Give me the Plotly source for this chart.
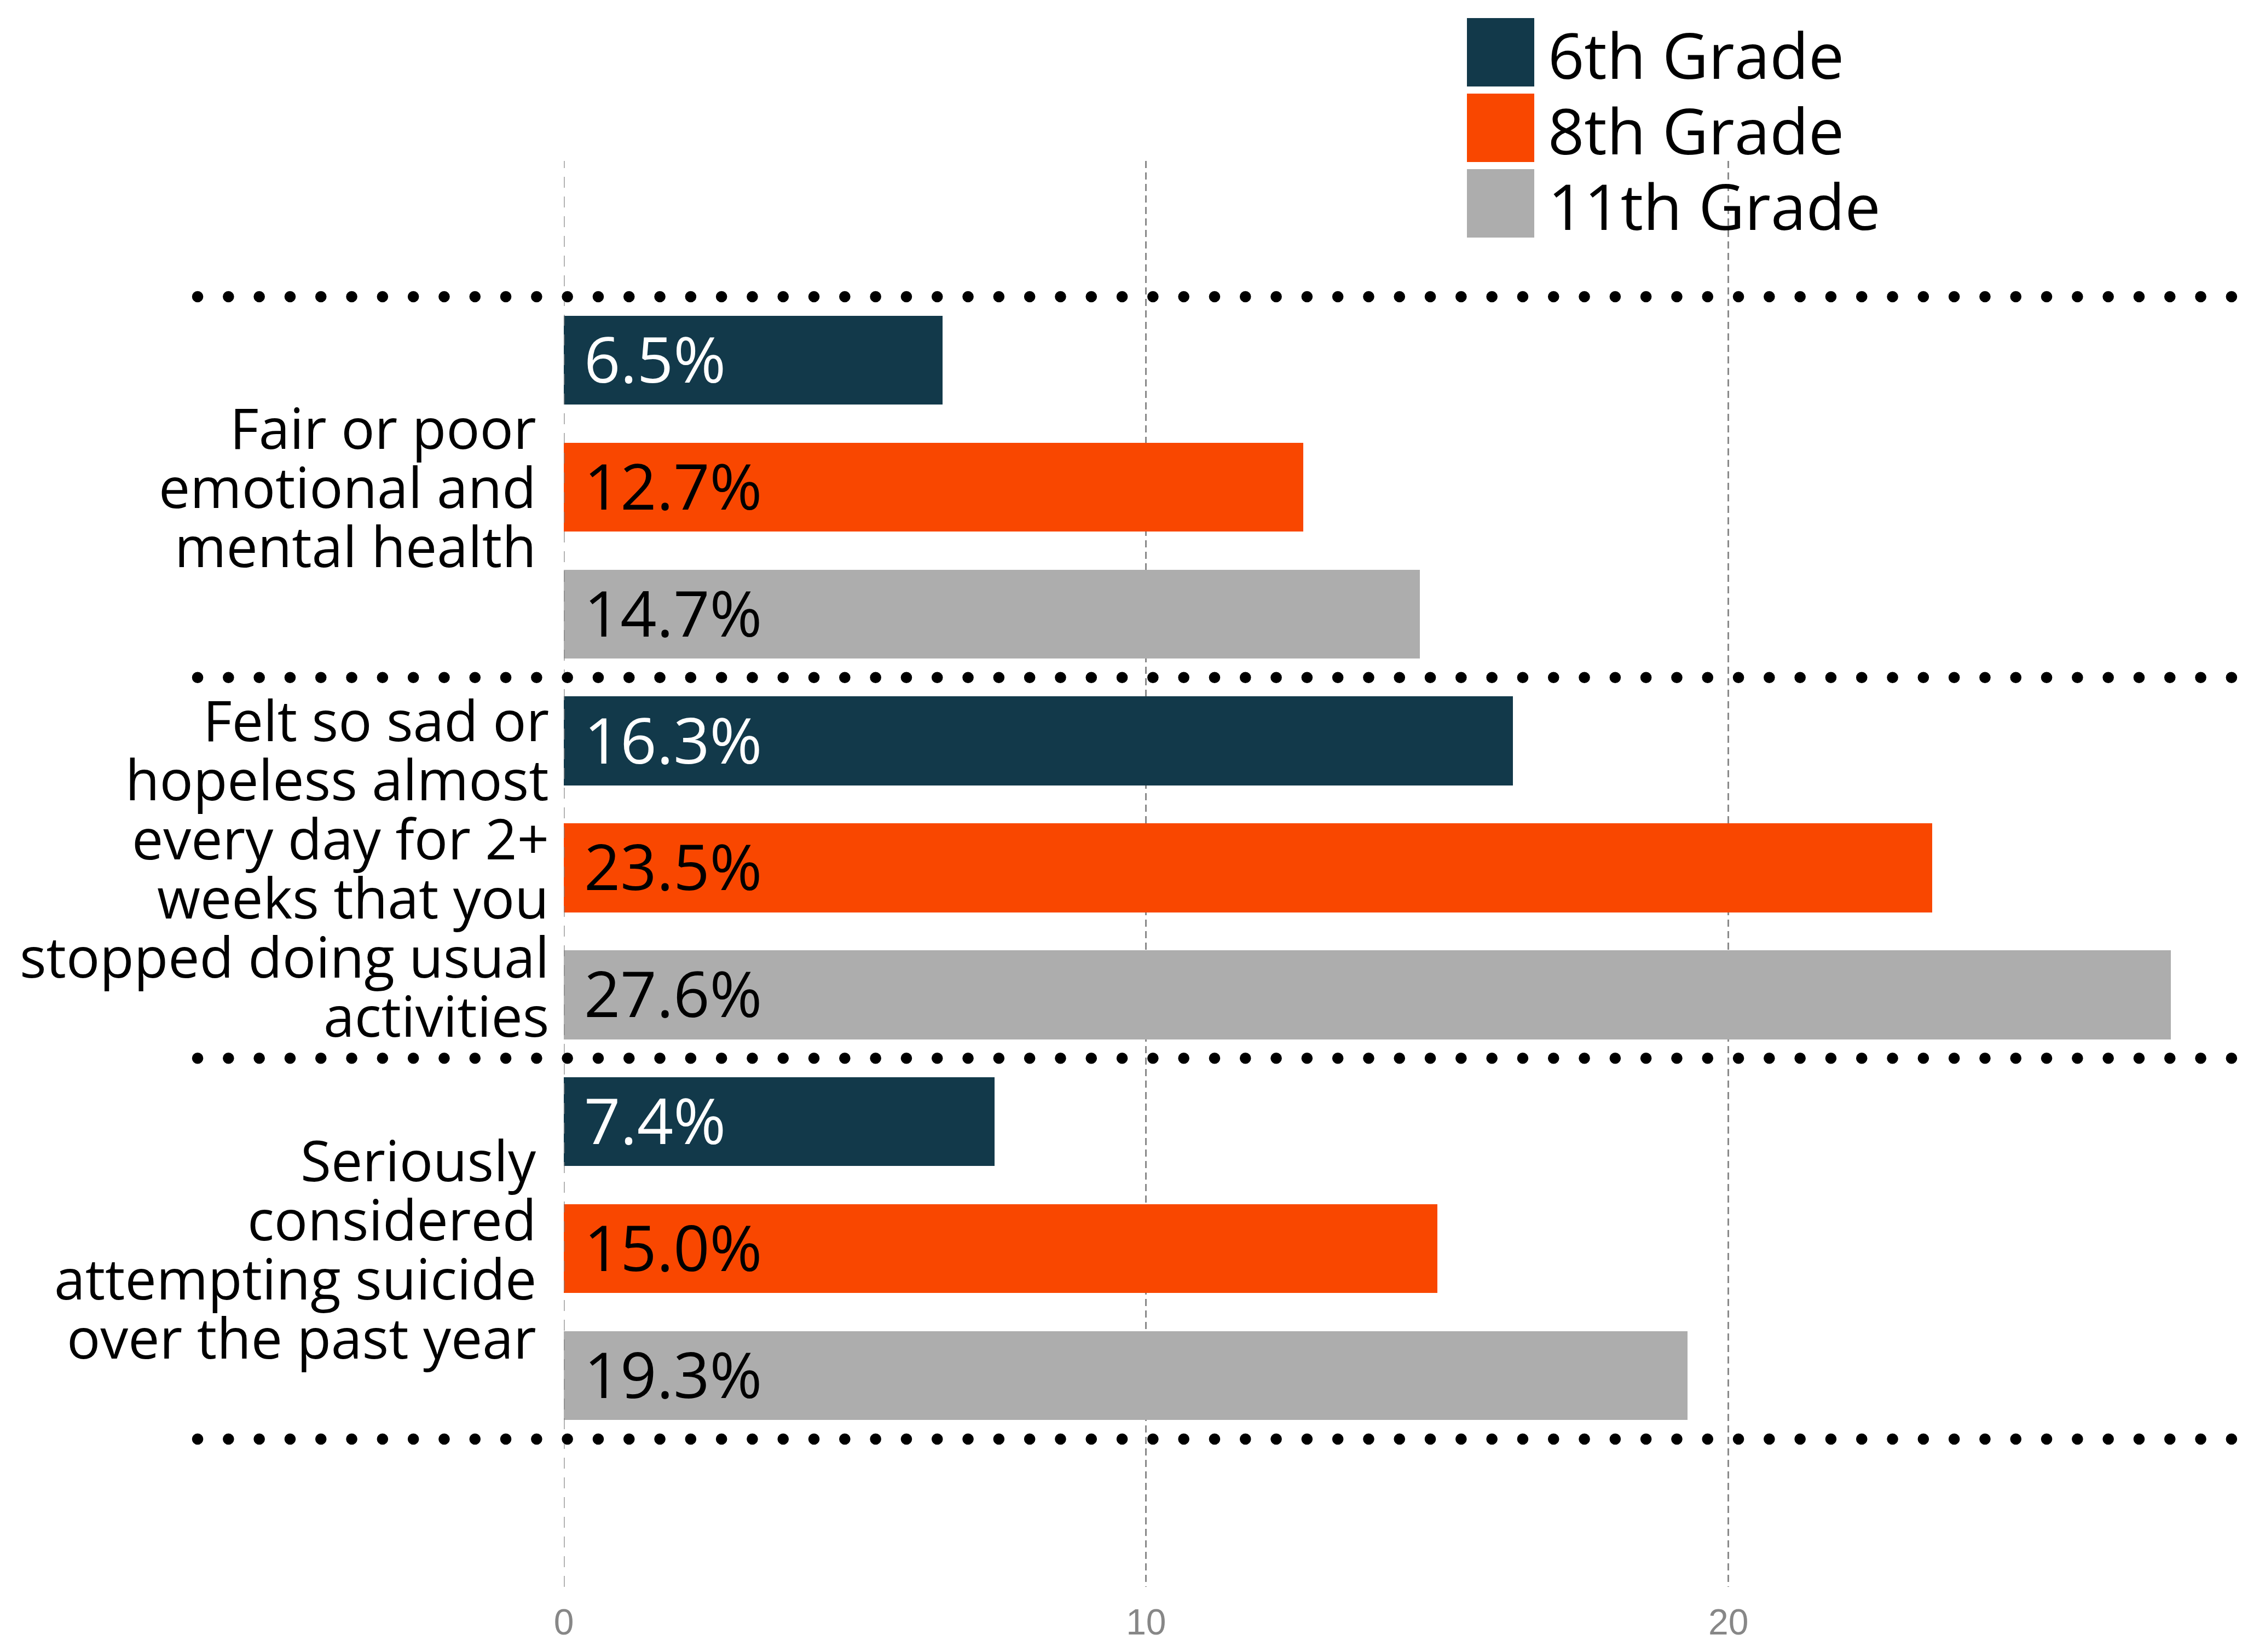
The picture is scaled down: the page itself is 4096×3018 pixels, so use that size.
import plotly.graph_objects as go

# ---------------- data ----------------
categories = [
    "Fair or poor<br>emotional and<br>mental health",
    "Felt so sad or<br>hopeless almost<br>every day for 2+<br>weeks that you<br>stopped doing usual<br>activities",
    "Seriously<br>considered<br>attempting suicide<br>over the past year",
]
grades = ["6th Grade", "8th Grade", "11th Grade"]
values_6th = [6.5, 16.3, 7.4]
values_8th = [12.7, 23.5, 15.0]
values_11th = [14.7, 27.6, 19.3]
tick_values = [0, 10, 20]

series = [values_6th, values_8th, values_11th]
colors = ["#12394A", "#F94700", "#ADADAD"]
text_colors = ["white", "black", "black"]

# ---------------- layout constants (output pixels) ----------------
W, H = 4096, 3018
PL, PR, PT, PB = 1030, 4096, 294, 2899  # plot area edges
X_MAX = 28.82
Y_RANGE = [9.665, -1.570]  # reversed: position 0 at top
BAR_UNIT = (PB - PT) / (Y_RANGE[0] - Y_RANGE[1])

def px_x(px):
    return (px - PL) / (PR - PL)

def px_y(py):
    return (PB - py) / (PB - PT)

def data_y_to_paper(v):
    return (Y_RANGE[0] - v) / (Y_RANGE[0] - Y_RANGE[1])

FONT = "Open Sans"

fig = go.Figure()

n_groups = len(categories)
n_series = len(series)
for k, (vals, col, name) in enumerate(zip(series, colors, grades)):
    ypos = [n_series * g + k for g in range(n_groups)]
    fig.add_trace(go.Bar(
        x=vals, y=ypos, orientation="h", width=0.7,
        marker=dict(color=col, line=dict(width=0)),
        name=name, showlegend=False, hoverinfo="skip",
    ))

annotations = []
shapes = []

# value labels inside bars
for k, vals in enumerate(series):
    for g, v in enumerate(vals):
        annotations.append(dict(
            x=0, y=n_series * g + k, xref="x", yref="y",
            text=f"{v:.1f}%", showarrow=False, xanchor="left", yanchor="middle",
            xshift=35, yshift=4,
            font=dict(family=FONT, size=116, color=text_colors[k]),
        ))

# category labels (one annotation per line for tight line spacing)
LINE_SP = 108 / BAR_UNIT
label_right = [982, 1005, 982]
for g, cat in enumerate(categories):
    lines = cat.split("<br>")
    n = len(lines)
    center = n_series * g + (n_series - 1) / 2
    for i, line in enumerate(lines):
        annotations.append(dict(
            x=px_x(label_right[g]), y=center + (i - (n - 1) / 2) * LINE_SP,
            xref="paper", yref="y", text=line, showarrow=False,
            xanchor="right", yanchor="middle", yshift=1,
            font=dict(family=FONT, size=102, color="black"),
        ))

# zero line (light dashed, above bars)
shapes.append(dict(
    type="line", xref="x", yref="paper", x0=0, x1=0, y0=0, y1=1,
    line=dict(color="rgba(128,128,128,0.6)", width=4, dash="20px,16px"),
    layer="above",
))

# dotted separators between groups
for b in range(n_groups + 1):
    yv = n_series * b - 0.5
    shapes.append(dict(
        type="line", xref="paper", yref="paper",
        x0=px_x(361), x1=px_x(4140), y0=data_y_to_paper(yv), y1=data_y_to_paper(yv),
        line=dict(color="black", width=20.5, dash="0.1px,56.2px"),
        layer="above",
    ))

# custom legend
for i, (name, col) in enumerate(zip(grades, colors)):
    top = 33 + i * 138
    shapes.append(dict(
        type="rect", xref="paper", yref="paper",
        x0=px_x(2680), x1=px_x(2803), y0=px_y(top + 125), y1=px_y(top),
        fillcolor=col, line=dict(width=0), layer="above",
    ))
    annotations.append(dict(
        x=px_x(2826), y=px_y(top + 66), xref="paper", yref="paper",
        text=name, showarrow=False, xanchor="left", yanchor="middle",
        font=dict(family=FONT, size=116, color="black"),
    ))

fig.update_layout(
    width=W, height=H, autosize=False,
    margin=dict(l=PL, r=W - PR, t=PT, b=H - PB, pad=0),
    paper_bgcolor="white", plot_bgcolor="white",
    showlegend=False,
    bargap=0,
    xaxis=dict(
        range=[0, X_MAX], tickvals=tick_values, showgrid=True,
        gridcolor="#8a8a8a", gridwidth=3.4, griddash="13px,8px",
        zeroline=True, zerolinecolor="white", zerolinewidth=6,
        showline=False, ticks="",
        tickfont=dict(family="Liberation Sans", size=66, color="#878787"),
        ticklabelstandoff=20,
    ),
    yaxis=dict(
        range=Y_RANGE, showticklabels=False, showgrid=False, zeroline=False,
        showline=False, ticks="",
    ),
    shapes=shapes,
    annotations=annotations,
)

post = """
var gd = document.getElementById('{plot_id}');
gd.querySelectorAll('.shapelayer path').forEach(function(p){
  var d = p.style.strokeDasharray;
  if (d && parseFloat(d) < 0.5) { p.style.strokeLinecap = 'round'; }
});
"""

fig.write_html("out.html", post_script=post)
